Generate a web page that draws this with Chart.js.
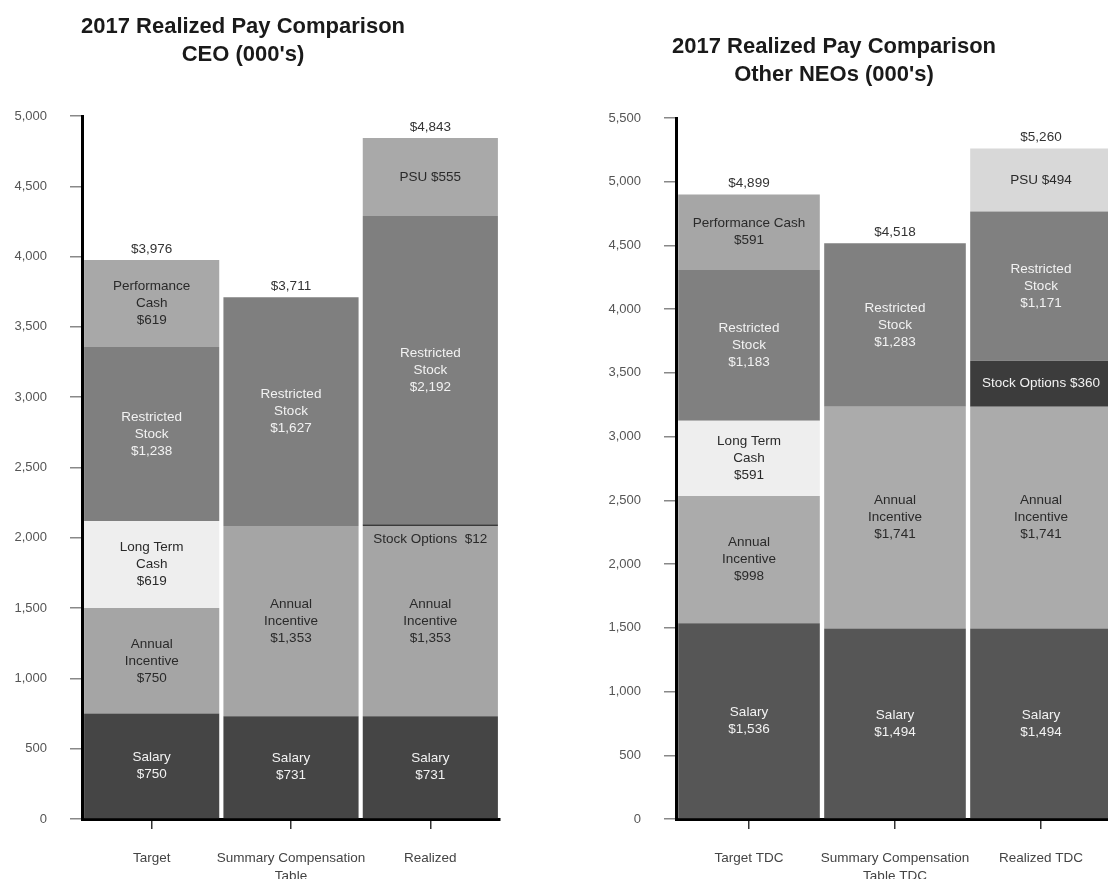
<!DOCTYPE html>
<html><head><meta charset="utf-8">
<script src="https://cdn.jsdelivr.net/npm/chart.js@4.4.1/dist/chart.umd.min.js"></script>
<style>
html,body{margin:0;padding:0;background:#fff;overflow:hidden;width:1108px;height:879px;}
#wrap{position:relative;width:1108px;height:879px;overflow:hidden;}
#c1{position:absolute;left:-14px;top:0;}
#c2{position:absolute;left:554px;top:0;}
</style></head><body><div id="wrap"><canvas id="c1" width="524" height="879"></canvas><canvas id="c2" width="562" height="879"></canvas></div>
<script>
const FONT = '"Liberation Sans", Arial, Helvetica, sans-serif';

// ---- CEO chart data ----
const ceoTitle = ['2017 Realized Pay Comparison', "CEO (000's)"];
const ceoCategories = ['Target', ['Summary Compensation', 'Table'], 'Realized'];
const ceoSalary = [750, 731, 731];
const ceoAnnualIncentive = [750, 1353, 1353];
const ceoLongTermCash = [619, null, null];
const ceoStockOptions = [null, null, 12];
const ceoRestrictedStock = [1238, 1627, 2192];
const ceoPerformanceCash = [619, null, null];
const ceoPSU = [null, null, 555];
const ceoTotals = [3976, 3711, 4843];
const ceoYMax = 5000;

// ---- Other NEOs chart data ----
const neoTitle = ['2017 Realized Pay Comparison', "Other NEOs (000's)"];
const neoCategories = ['Target TDC', ['Summary Compensation', 'Table TDC'], 'Realized TDC'];
const neoSalary = [1536, 1494, 1494];
const neoAnnualIncentive = [998, 1741, 1741];
const neoLongTermCash = [591, null, null];
const neoStockOptions = [null, null, 360];
const neoRestrictedStock = [1183, 1283, 1171];
const neoPerformanceCash = [591, null, null];
const neoPSU = [null, null, 494];
const neoTotals = [4899, 4518, 5260];
const neoYMax = 5500;

const yStep = 500;

const segLabels = {
  id: 'segLabels',
  afterDatasetsDraw(chart) {
    const ctx = chart.ctx;
    ctx.save();
    ctx.font = '13.5px ' + FONT;
    ctx.textAlign = 'center';
    ctx.textBaseline = 'middle';
    chart.data.datasets.forEach((ds, di) => {
      const meta = chart.getDatasetMeta(di);
      meta.data.forEach((el, i) => {
        const v = ds.data[i];
        if (v == null) return;
        const money = '$' + v.toLocaleString('en-US');
        const lines = ds.inlineName ? [ds.inlineName + money] : ds.lines.concat([money]);
        const top = Math.min(el.y, el.base), bot = Math.max(el.y, el.base);
        let cy = (top + bot) / 2;
        if (bot - top < 20) cy = bot + 13;
        const lh = 17;
        const y0 = cy - (lines.length - 1) * lh / 2;
        ctx.fillStyle = ds.labelColor;
        lines.forEach((t, k) => ctx.fillText(t, el.x, y0 + k * lh));
      });
    });
    // totals
    const totals = chart.options.plugins.segLabels.totals;
    const ys = chart.scales.y;
    const m0 = chart.getDatasetMeta(0);
    ctx.fillStyle = '#333';
    totals.forEach((t, i) => {
      ctx.fillText('$' + t.toLocaleString('en-US'), m0.data[i].x, ys.getPixelForValue(t) - 11);
    });
    ctx.restore();
  }
};

function makeChart(id, cfg) {
  const c = cfg.colors;
  const datasets = [
    {data: cfg.salary, backgroundColor: c.salary, lines: ['Salary'], labelColor: '#f2f2f2'},
    {data: cfg.ai, backgroundColor: c.ai, lines: ['Annual', 'Incentive'], labelColor: '#2a2a2a'},
    {data: cfg.ltc, backgroundColor: c.ltc, lines: ['Long Term', 'Cash'], labelColor: '#2a2a2a'},
    {data: cfg.so, backgroundColor: c.so, inlineName: cfg.soName, labelColor: cfg.soLabelColor},
    {data: cfg.rs, backgroundColor: c.rs, lines: ['Restricted', 'Stock'], labelColor: '#f2f2f2'},
    {data: cfg.pc, backgroundColor: c.pc, lines: cfg.pcLines, labelColor: '#2a2a2a'},
    {data: cfg.psu, backgroundColor: c.psu, inlineName: 'PSU ', labelColor: '#2a2a2a'}
  ].map(d => Object.assign({stack: 's', borderWidth: 0, barPercentage: 0.97, categoryPercentage: 1.0}, d));

  return new Chart(document.getElementById(id), {
    type: 'bar',
    data: {labels: cfg.categories, datasets},
    plugins: [segLabels],
    options: {
      responsive: false,
      animation: false,
      devicePixelRatio: 1,
      layout: {padding: {top: 0, left: 0, right: cfg.padRight, bottom: 0}},
      plugins: {
        legend: {display: false},
        tooltip: {enabled: false},
        title: {
          display: true, text: cfg.title, color: '#1a1a1a',
          font: {family: FONT, size: 22, weight: 'bold', lineHeight: 28 / 22},
          padding: {top: cfg.titleTop, bottom: cfg.titleBottom}
        },
        segLabels: {totals: cfg.totals}
      },
      scales: {
        x: {
          stacked: true,
          grid: {drawOnChartArea: false, drawTicks: true, tickLength: 10, color: '#333', offset: false, lineWidth: 1.5},
          border: {display: true, color: '#000', width: 3},
          ticks: {color: '#444', font: {family: FONT, size: 13.5, lineHeight: 1.3}, padding: 21, maxRotation: 0, autoSkip: false},
          afterFit: s => { s.height = 879 - 819; }
        },
        y: {
          stacked: true, min: 0, max: cfg.yMax,
          grid: {drawOnChartArea: false, drawTicks: true, tickLength: 12, color: '#888', lineWidth: 1.5},
          border: {display: true, color: '#000', width: 3},
          ticks: {stepSize: yStep, color: '#555', font: {family: FONT, size: 13}, padding: 23},
          afterFit: s => { s.width = cfg.axisWidth; }
        }
      }
    }
  });
}

makeChart('c1', {
  title: ceoTitle, categories: ceoCategories, totals: ceoTotals, yMax: ceoYMax,
  salary: ceoSalary, ai: ceoAnnualIncentive, ltc: ceoLongTermCash, so: ceoStockOptions,
  rs: ceoRestrictedStock, pc: ceoPerformanceCash, psu: ceoPSU,
  soName: 'Stock Options  ', soLabelColor: '#2a2a2a', pcLines: ['Performance', 'Cash'],
  colors: {salary: '#454545', ai: '#a5a5a5', ltc: '#eeeeee', so: '#3a3a3a', rs: '#7f7f7f', pc: '#a8a8a8', psu: '#a9a9a9'},
  axisWidth: 96, padRight: 10, titleTop: 13, titleBottom: 47
});

makeChart('c2', {
  title: neoTitle, categories: neoCategories, totals: neoTotals, yMax: neoYMax,
  salary: neoSalary, ai: neoAnnualIncentive, ltc: neoLongTermCash, so: neoStockOptions,
  rs: neoRestrictedStock, pc: neoPerformanceCash, psu: neoPSU,
  soName: 'Stock Options ', soLabelColor: '#f2f2f2', pcLines: ['Performance Cash'],
  colors: {salary: '#565656', ai: '#ababab', ltc: '#eeeeee', so: '#3c3c3c', rs: '#808080', pc: '#a6a6a6', psu: '#d8d8d8'},
  axisWidth: 122, padRight: 2, titleTop: 33, titleBottom: 29
});
</script></body></html>
